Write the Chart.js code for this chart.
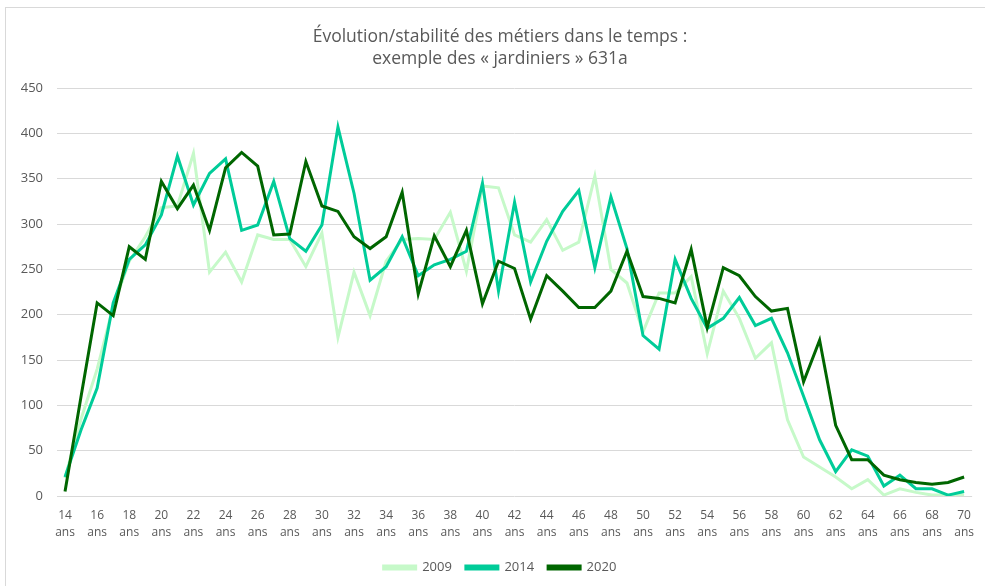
<!DOCTYPE html>
<html>
<head>
<meta charset="utf-8">
<script src="https://cdn.jsdelivr.net/npm/chart.js@4"></script>
<style>
    html, body { margin: 0; padding: 0; background: #fff; }
    #wrap { position: relative; width: 985px; height: 586px; overflow: hidden; }
    #frame { position: absolute; left: 5px; top: 7px; width: 1000px; height: 600px; border: 1px solid #d9d9d9; }
    canvas { position: absolute; left: 0; top: 0; }
</style>
</head>
<body>
<div id="wrap">
    <div id="frame"></div>
    <canvas id="chart" width="985" height="586"></canvas>
</div>
<script>
// Data
const ages = [14, 15, 16, 17, 18, 19, 20, 21, 22, 23, 24, 25, 26, 27, 28, 29, 30, 31, 32, 33,
    34, 35, 36, 37, 38, 39, 40, 41, 42, 43, 44, 45, 46, 47, 48, 49, 50, 51, 52, 53,
    54, 55, 56, 57, 58, 59, 60, 61, 62, 63, 64, 65, 66, 67, 68, 69, 70];

const values2009 = [20, 85, 140, 209, 259, 286, 318, 320, 378, 247, 269, 236, 288, 283, 283, 253, 290, 175, 247, 199,
    259, 283, 284, 283, 313, 248, 342, 340, 288, 280, 305, 271, 280, 353, 250, 235, 181, 224, 224, 242,
    157, 226, 196, 152, 169, 84, 43, 32, 21, 8, 18, 1, 8, 4, 1, 1, 1];

const values2014 = [21, 73, 119, 213, 261, 277, 310, 375, 321, 356, 372, 293, 299, 347, 284, 270, 299, 407, 334, 238,
    253, 286, 243, 255, 261, 270, 345, 226, 324, 236, 281, 314, 337, 252, 330, 273, 177, 162, 261, 218,
    185, 196, 219, 188, 196, 158, 110, 62, 27, 51, 44, 11, 23, 8, 8, 1, 5];

const values2020 = [5, 110, 213, 199, 275, 261, 347, 317, 343, 293, 362, 379, 364, 288, 289, 369, 320, 314, 286, 273,
    286, 335, 223, 287, 253, 293, 212, 259, 251, 195, 243, 226, 208, 208, 226, 270, 220, 218, 213, 272,
    186, 252, 243, 220, 204, 207, 126, 172, 78, 40, 40, 23, 18, 15, 13, 15, 21];

const yTicks = [0, 50, 100, 150, 200, 250, 300, 350, 400, 450];

const textColor = '#595959';
const gridColor = '#d9d9d9';
const fontFamily = "'Open Sans', 'Noto Sans', sans-serif";

const line = (label, data, color, order) => ({
    label,
    data,
    borderColor: color,
    backgroundColor: color,
    borderWidth: 3,
    pointRadius: 0,
    tension: 0,
    fill: false,
    order
});

new Chart(document.getElementById('chart'), {
    type: 'line',
    data: {
        labels: ages,
        datasets: [
            line('2009', values2009, '#c6f9c9', 3),
            line('2014', values2014, '#00cc99', 2),
            line('2020', values2020, '#006600', 1)
        ]
    },
    options: {
        responsive: false,
        animation: false,
        // the Excel chart box runs past the right edge, so center things a bit to the right
        layout: { padding: { left: 17, right: 2, top: 0, bottom: 2 } },
        plugins: {
            title: {
                display: true,
                text: ['Évolution/stabilité des métiers dans le temps :', 'exemple des « jardiniers » 631a'],
                color: textColor,
                font: { family: fontFamily, size: 17.5, weight: 'normal', lineHeight: 1.26 },
                padding: { top: 26, bottom: 18 }
            },
            legend: {
                position: 'bottom',
                labels: {
                    color: textColor,
                    font: { family: fontFamily, size: 13 },
                    boxWidth: 32,
                    boxHeight: 3,
                    padding: 14,
                    sort: (a, b) => a.datasetIndex - b.datasetIndex
                }
            },
            tooltip: { enabled: false }
        },
        scales: {
            x: {
                offset: true,
                grid: { display: false, drawTicks: false },
                border: { display: false },
                ticks: {
                    autoSkip: false,
                    maxRotation: 0,
                    minRotation: 0,
                    padding: 11,
                    color: textColor,
                    font: { family: fontFamily, size: 12, lineHeight: 1.4 },
                    callback: (val, i) => i % 2 === 0 ? [String(ages[i]), 'ans'] : ''
                },
                afterFit: s => { s.height = 51; }
            },
            y: {
                min: 0,
                max: 450,
                afterBuildTicks: s => { s.ticks = yTicks.map(v => ({ value: v })); },
                grid: { color: gridColor, lineWidth: 1, drawTicks: false },
                border: { display: false },
                ticks: {
                    padding: 14,
                    color: textColor,
                    font: { family: fontFamily, size: 13 }
                },
                afterFit: s => { s.width = 40; }
            }
        }
    }
});
</script>
</body>
</html>
